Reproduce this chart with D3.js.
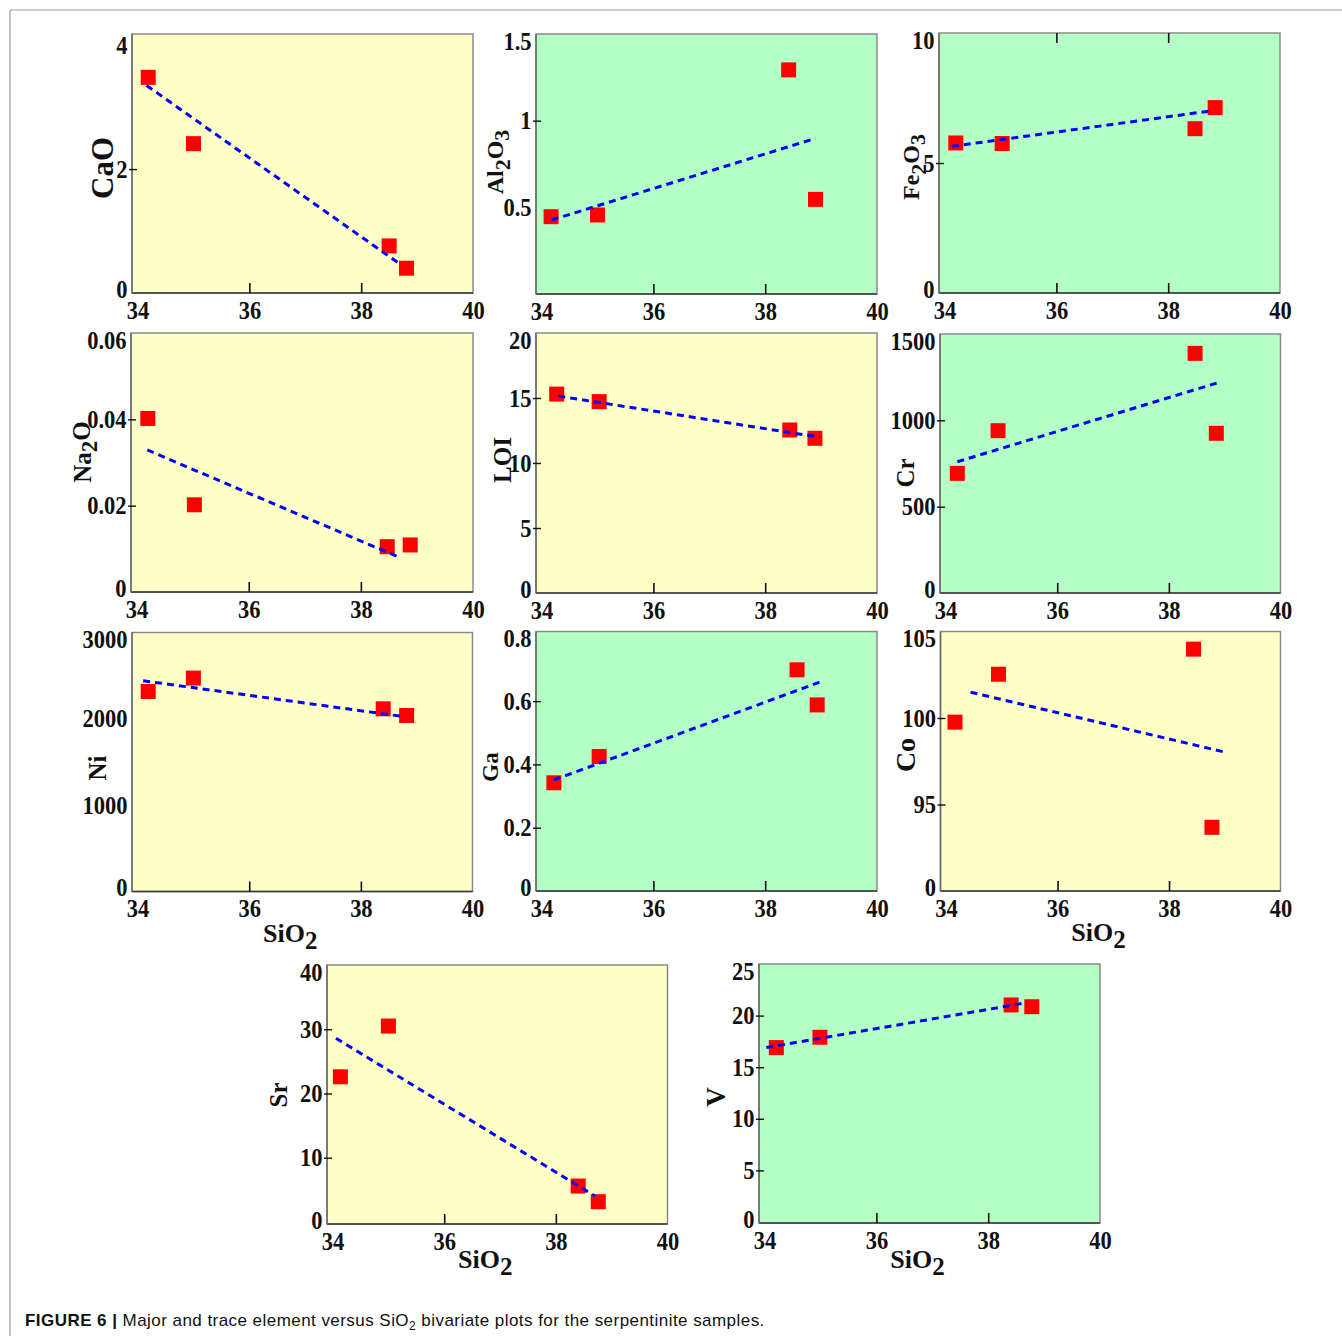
<!DOCTYPE html>
<html>
<head>
<meta charset="utf-8">
<script src="https://cdn.jsdelivr.net/npm/d3@7"></script>
<style>
  html, body { margin: 0; padding: 0; background: #ffffff; }
  svg { display: block; }
</style>
</head>
<body>
<svg id="fig" width="1342" height="1336"></svg>
<script>
// ---- shared x axis: SiO2 (wt%) ----
const sio2Domain = [33.9, 40];
const sio2Ticks = [34, 36, 38, 40];
const sio2InnerTicks = [36, 38];

// ---- CaO ----
const caoSiO2 = [34.19, 35.0, 38.5, 38.81];
const caoValues = [3.48, 2.41, 0.76, 0.40];
const caoTrendSiO2 = [34.16, 38.72];
const caoTrendValues = [3.35, 0.45];
const caoTicks = [0, 2, 4];

// ---- Al2O3 ----
const al2o3SiO2 = [34.17, 35.0, 38.42, 38.9];
const al2o3Values = [0.446, 0.456, 1.293, 0.546];
const al2o3TrendSiO2 = [34.18, 38.9];
const al2o3TrendValues = [0.427, 0.898];
const al2o3Ticks = [0.5, 1, 1.5];

// ---- Fe2O3 ----
const fe2o3SiO2 = [34.2, 35.03, 38.48, 38.84];
const fe2o3Values = [5.77, 5.75, 6.32, 7.13];
const fe2o3TrendSiO2 = [34.13, 38.75];
const fe2o3TrendValues = [5.64, 7.0];
const fe2o3Ticks = [0, 5, 10];

// ---- Na2O ----
const na2oSiO2 = [34.2, 35.03, 38.47, 38.88];
const na2oValues = [0.0402, 0.0202, 0.0105, 0.0109];
const na2oTrendSiO2 = [34.19, 38.71];
const na2oTrendValues = [0.0329, 0.0079];
const na2oTicks = [0, 0.02, 0.04, 0.06];

// ---- LOI ----
const loiSiO2 = [34.27, 35.03, 38.44, 38.89];
const loiValues = [15.3, 14.72, 12.54, 11.9];
const loiTrendSiO2 = [34.3, 38.98];
const loiTrendValues = [15.15, 11.98];
const loiTicks = [0, 5, 10, 15, 20];

// ---- Cr ----
const crSiO2 = [34.21, 34.94, 38.47, 38.85];
const crValues = [693, 940, 1388, 925];
const crTrendSiO2 = [34.21, 38.94];
const crTrendValues = [760, 1224];
const crTicks = [0, 500, 1000, 1500];

// ---- Ni ----
const niSiO2 = [34.19, 35.0, 38.4, 38.82];
const niValues = [2317, 2472, 2116, 2039];
const niTrendSiO2 = [34.1, 38.75];
const niTrendValues = [2441, 2027];
const niTicks = [0, 1000, 2000, 3000];

// ---- Ga ----
const gaSiO2 = [34.22, 35.03, 38.57, 38.93];
const gaValues = [0.342, 0.425, 0.699, 0.588];
const gaTrendSiO2 = [34.22, 39.05];
const gaTrendValues = [0.351, 0.665];
const gaTicks = [0, 0.2, 0.4, 0.6, 0.8];

// ---- Co (broken axis: bottom tick reads 0) ----
const coSiO2 = [34.16, 34.94, 38.44, 38.77];
const coValues = [99.76, 102.53, 103.98, 93.68];
const coTrendSiO2 = [34.44, 39.04];
const coTrendValues = [101.49, 98.0];
const coTicks = [90, 95, 100, 105];
const coTickLabels = ["0", "95", "100", "105"];

// ---- Sr ----
const srSiO2 = [34.14, 35.0, 38.4, 38.76];
const srValues = [22.6, 30.5, 5.6, 3.16];
const srTrendSiO2 = [34.06, 38.7];
const srTrendValues = [28.6, 4.05];
const srTicks = [0, 10, 20, 30, 40];

// ---- V ----
const vSiO2 = [34.21, 34.99, 38.41, 38.78];
const vValues = [16.9, 17.9, 21.03, 20.86];
const vTrendSiO2 = [34.03, 38.69];
const vTrendValues = [16.9, 21.25];
const vTicks = [0, 5, 10, 15, 20, 25];

// ---- panel layout and styling ----
const YELLOW = "#ffffc8";
const GREEN = "#b4ffc6";
const SERIF = "'Liberation Serif', 'Times New Roman', Times, serif";
const TICK_SIZE = 25;

const panels = [
  { title: [["CaO", 0]], size: 31, lx: 102, ly: 168,
    xs: caoSiO2, ys: caoValues, tx: caoTrendSiO2, ty: caoTrendValues, ticks: caoTicks,
    yDomain: [0, 4.18], box: [132, 473, 34, 293], bg: YELLOW },
  { title: [["Al", 0], ["2", 1], ["O", 0], ["3", 1]], size: 24, lx: 495, ly: 162,
    xs: al2o3SiO2, ys: al2o3Values, tx: al2o3TrendSiO2, ty: al2o3TrendValues, ticks: al2o3Ticks,
    yDomain: [0, 1.5], box: [536, 877, 34, 294], bg: GREEN },
  { title: [["Fe", 0], ["2", 1], ["O", 0], ["3", 1]], size: 24, lx: 911, ly: 167,
    xs: fe2o3SiO2, ys: fe2o3Values, tx: fe2o3TrendSiO2, ty: fe2o3TrendValues, ticks: fe2o3Ticks,
    yDomain: [0, 10], box: [939, 1280, 33, 293], bg: GREEN, topTicks: true },
  { title: [["Na", 0], ["2", 1], ["O", 0]], size: 25, lx: 82, ly: 452,
    xs: na2oSiO2, ys: na2oValues, tx: na2oTrendSiO2, ty: na2oTrendValues, ticks: na2oTicks,
    yDomain: [0, 0.06], box: [131, 473, 333, 592], bg: YELLOW },
  { title: [["LOI", 0]], size: 25, lx: 502, ly: 460,
    xs: loiSiO2, ys: loiValues, tx: loiTrendSiO2, ty: loiTrendValues, ticks: loiTicks,
    yDomain: [0, 20], box: [536, 877, 333, 593], bg: YELLOW },
  { title: [["Cr", 0]], size: 25, lx: 905, ly: 473,
    xs: crSiO2, ys: crValues, tx: crTrendSiO2, ty: crTrendValues, ticks: crTicks,
    yDomain: [0, 1500], box: [940, 1280.5, 334, 593], bg: GREEN },
  { title: [["Ni", 0]], size: 25, lx: 97, ly: 768,
    xs: niSiO2, ys: niValues, tx: niTrendSiO2, ty: niTrendValues, ticks: niTicks,
    yDomain: [0, 3000], box: [132, 472.5, 632.5, 891.5], bg: YELLOW, noMarks: true, xTitle: true },
  { title: [["Ga", 0]], size: 23, lx: 490, ly: 767,
    xs: gaSiO2, ys: gaValues, tx: gaTrendSiO2, ty: gaTrendValues, ticks: gaTicks,
    yDomain: [0, 0.82], box: [536, 877, 631.5, 891], bg: GREEN },
  { title: [["Co", 0]], size: 28, lx: 905, ly: 755,
    xs: coSiO2, ys: coValues, tx: coTrendSiO2, ty: coTrendValues, ticks: coTicks, tickLabels: coTickLabels,
    yDomain: [90, 105], box: [940.5, 1280.5, 631.5, 891], bg: YELLOW, xTitle: true },
  { title: [["Sr", 0]], size: 25, lx: 278, ly: 1095,
    xs: srSiO2, ys: srValues, tx: srTrendSiO2, ty: srTrendValues, ticks: srTicks,
    yDomain: [-0.31, 40], box: [327, 667.5, 965, 1224], bg: YELLOW, xTitle: true, xTitleGap: 44 },
  { title: [["V", 0]], size: 27, lx: 716, ly: 1097,
    xs: vSiO2, ys: vValues, tx: vTrendSiO2, ty: vTrendValues, ticks: vTicks,
    yDomain: [-0.1, 25], box: [759, 1100, 964, 1223], bg: GREEN, xTitle: true, xTitleGap: 45 }
];

const svg = d3.select("#fig");

// outer figure frame (top and left rules)
svg.append("line").attr("x1", 10).attr("y1", 10).attr("x2", 1342).attr("y2", 10)
  .attr("stroke", "#9a9a9a").attr("stroke-width", 1.2);
svg.append("line").attr("x1", 10).attr("y1", 10).attr("x2", 10).attr("y2", 1336)
  .attr("stroke", "#9a9a9a").attr("stroke-width", 1.2);

function styleAxis(sel, size) {
  sel.attr("font-family", SERIF).attr("font-size", size).attr("font-weight", "bold")
     .attr("color", "#111");
  sel.select(".domain").remove();
  // tall, slightly narrow figures
  sel.selectAll(".tick text").attr("transform", "scale(0.9,1)");
}

function appendRich(textSel, parts, subSize) {
  parts.forEach(([s, sub], i) => {
    const prevSub = i > 0 ? parts[i - 1][1] : 0;
    const t = textSel.append("tspan").text(s);
    if (sub && !prevSub) t.attr("dy", "0.28em").attr("font-size", subSize);
    else if (!sub && prevSub) t.attr("dy", "-0.28em");
    else if (sub) t.attr("font-size", subSize);
  });
}

panels.forEach(p => {
  const [x0, x1, y0, y1] = p.box;
  const g = svg.append("g");
  const x = d3.scaleLinear().domain(sio2Domain).range([x0, x1]);
  const y = d3.scaleLinear().domain(p.yDomain).range([y1, y0]);

  // plotting area
  g.append("rect").attr("x", x0).attr("y", y0).attr("width", x1 - x0).attr("height", y1 - y0)
    .attr("fill", p.bg).attr("stroke", "#8a8a8a").attr("stroke-width", 1.5);
  g.append("line").attr("x1", x0).attr("x2", x1).attr("y1", y1).attr("y2", y1)
    .attr("stroke", "#3a3a3a").attr("stroke-width", 1.5);
  g.append("line").attr("x1", x0).attr("x2", x0).attr("y1", y0).attr("y2", y1)
    .attr("stroke", "#6a6a6a").attr("stroke-width", 1.5);

  // x tick labels
  g.append("g").attr("transform", `translate(0,${y1})`)
    .call(d3.axisBottom(x).tickValues(sio2Ticks).tickFormat(d3.format("d")).tickSize(0).tickPadding(8))
    .call(a => styleAxis(a, TICK_SIZE));
  // x inner tick marks
  g.append("g").attr("transform", `translate(0,${y1})`)
    .call(d3.axisTop(x).tickValues(sio2InnerTicks).tickFormat("").tickSize(10))
    .call(a => styleAxis(a, TICK_SIZE))
    .selectAll("line").attr("stroke-width", 1.6);
  if (p.topTicks) {
    g.append("g").attr("transform", `translate(0,${y0})`)
      .call(d3.axisBottom(x).tickValues(sio2InnerTicks).tickFormat("").tickSize(10))
      .call(a => styleAxis(a, TICK_SIZE))
      .selectAll("line").attr("stroke-width", 1.6);
  }

  // y tick labels
  const fmt = p.tickLabels ? ((d, i) => p.tickLabels[i]) : (d => String(d));
  const ya = g.append("g").attr("transform", `translate(${x0},0)`)
    .call(d3.axisLeft(y).tickValues(p.ticks).tickFormat(fmt).tickSize(0).tickPadding(5))
    .call(a => styleAxis(a, TICK_SIZE));
  ya.selectAll(".tick text")
    .attr("y", d => Math.max(y0 + 7, Math.min(y1 - 4, y(d))) - y(d));

  // y inner tick marks (interior values)
  if (!p.noMarks) {
    const inner = p.ticks.slice(1, -1);
    g.append("g").attr("transform", `translate(${x0 - 3},0)`)
      .call(d3.axisRight(y).tickValues(inner).tickFormat("").tickSize(8))
      .call(a => styleAxis(a, TICK_SIZE))
      .selectAll("line").attr("stroke-width", 1.4);
  }

  // samples
  const pts = p.xs.map((v, i) => [v, p.ys[i]]);
  const S = 15;
  g.append("g").selectAll("rect").data(pts).join("rect")
    .attr("x", d => x(d[0]) - S / 2).attr("y", d => y(d[1]) - S / 2)
    .attr("width", S).attr("height", S).attr("fill", "#ff0000");

  // trend line
  const trend = p.tx.map((v, i) => [v, p.ty[i]]);
  g.append("path").datum(trend)
    .attr("d", d3.line().x(d => x(d[0])).y(d => y(d[1])))
    .attr("fill", "none").attr("stroke", "#0000ff").attr("stroke-width", 3)
    .attr("stroke-dasharray", "7,5");

  // y title
  const yt = g.append("text")
    .attr("transform", `translate(${p.lx},${p.ly}) rotate(-90)`)
    .attr("text-anchor", "middle").attr("dy", "0.35em")
    .attr("font-family", SERIF).attr("font-weight", "bold").attr("font-size", p.size)
    .attr("fill", "#111");
  appendRich(yt, p.title, Math.round(p.size * 0.9));

  // x title
  if (p.xTitle) {
    const xt = g.append("text")
      .attr("x", (x0 + x1) / 2 - 12).attr("y", y1 + (p.xTitleGap || 50))
      .attr("text-anchor", "middle")
      .attr("font-family", SERIF).attr("font-weight", "bold").attr("font-size", 26)
      .attr("fill", "#111");
    appendRich(xt, [["SiO", 0], ["2", 1]], 25);
  }
});

// caption
const cap = svg.append("text").attr("x", 25).attr("y", 1326)
  .attr("font-family", "'Liberation Sans', Arial, Helvetica, sans-serif")
  .attr("font-size", 17).attr("letter-spacing", 0.45).attr("fill", "#111");
cap.append("tspan").attr("font-weight", "bold").text("FIGURE 6 | ");
cap.append("tspan").text("Major and trace element versus SiO");
cap.append("tspan").attr("dy", 4).attr("font-size", 12).text("2");
cap.append("tspan").attr("dy", -4).text(" bivariate plots for the serpentinite samples.");
</script>
</body>
</html>
